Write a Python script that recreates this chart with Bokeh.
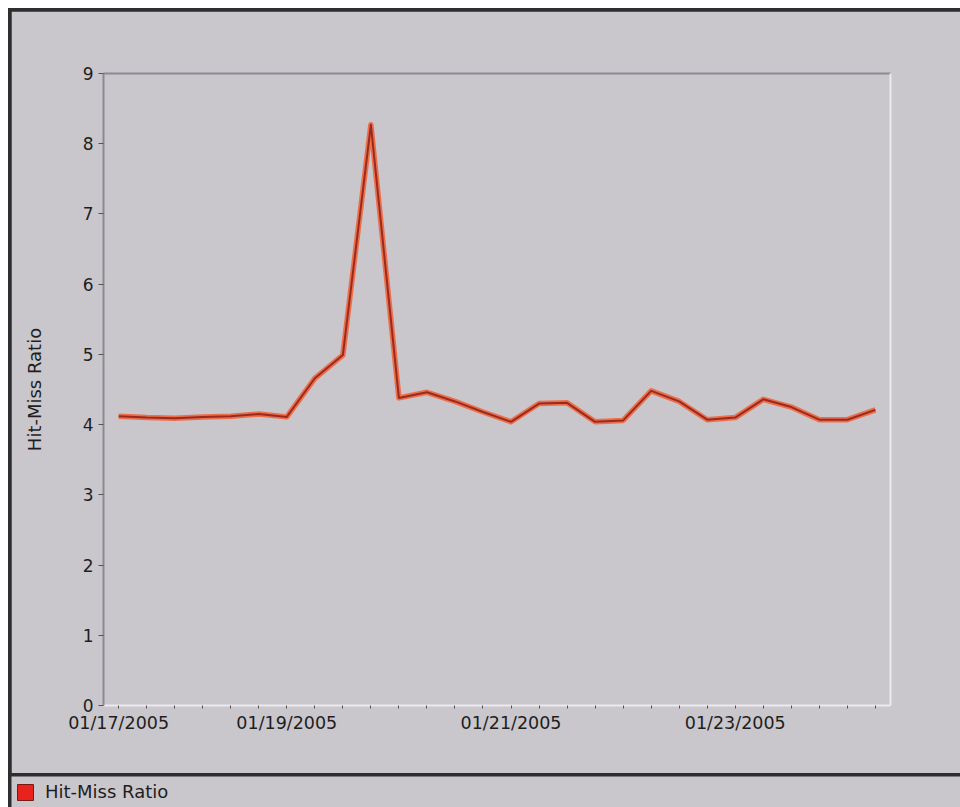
from bokeh.plotting import figure
from bokeh.models import Range1d, FixedTicker, LinearAxis, Legend, LegendItem
from bokeh.layouts import column
from bokeh.embed import file_html
from bokeh.resources import INLINE

# ---- data ----
series_name = "Hit-Miss Ratio"
ratio = [4.12, 4.10, 4.09, 4.11, 4.12, 4.15, 4.11, 4.66, 4.99, 8.27,
         4.38, 4.46, 4.33, 4.18, 4.04, 4.30, 4.31, 4.04, 4.06, 4.48,
         4.33, 4.07, 4.10, 4.36, 4.25, 4.07, 4.07, 4.21]
date_labels = ["01/17/2005", "01/19/2005", "01/21/2005", "01/23/2005"]
date_label_index = [0, 6, 14, 22]
y_ticks = [0, 1, 2, 3, 4, 5, 6, 7, 8, 9]

# ---- style ----
BG = "#C9C6CC"
FONT = "DejaVu Sans"
TXT = "#1E1E1E"
FRAME_DARK = "#2E2E2E"

x = list(range(len(ratio)))

p = figure(width=949, height=762, output_backend="svg", toolbar_location=None,
           x_range=Range1d(-0.54, len(ratio) - 0.46), y_range=Range1d(y_ticks[0], y_ticks[-1]),
           min_border_left=92, min_border_right=70, min_border_top=62, min_border_bottom=68,
           background_fill_color=BG, border_fill_color=BG, outline_line_color=None)
p.frame_align = False
p.grid.visible = False

# y axis
ya = p.yaxis[0]
ya.ticker = FixedTicker(ticks=y_ticks, minor_ticks=[])
ya.axis_label = series_name
ya.axis_label_text_font = FONT
ya.axis_label_text_font_size = "18px"
ya.axis_label_text_font_style = "normal"
ya.axis_label_text_color = TXT
ya.axis_label_standoff = 35
ya.major_label_text_font = FONT
ya.major_label_text_font_size = "17px"
ya.major_label_text_color = TXT
ya.major_tick_in = 0
ya.major_tick_out = 5
ya.major_tick_line_color = "#555555"
ya.axis_line_color = "#8C898F"
ya.axis_line_width = 2

# x axis
xa = p.xaxis[0]
xa.ticker = FixedTicker(ticks=x, minor_ticks=[])
overrides = {i: "" for i in x}
for i, lab in zip(date_label_index, date_labels):
    overrides[i] = lab
xa.major_label_overrides = overrides
xa.major_label_text_font = FONT
xa.major_label_text_font_size = "17.5px"
xa.major_label_text_color = TXT
xa.major_label_standoff = 4
xa.major_tick_in = 0
xa.major_tick_out = 3
xa.major_tick_line_color = "#555555"
xa.axis_line_color = "#ECEAEE"
xa.axis_line_width = 2

# top and right frame lines
top_axis = LinearAxis(ticker=FixedTicker(ticks=[]), axis_line_color="#8C898F", axis_line_width=2,
                      major_tick_line_color=None, minor_tick_line_color=None)
right_axis = LinearAxis(ticker=FixedTicker(ticks=[]), axis_line_color="#ECEAEE", axis_line_width=2,
                        major_tick_line_color=None, minor_tick_line_color=None)
p.add_layout(top_axis, "above")
p.add_layout(right_axis, "right")

# series line
p.line(x, ratio, line_color="#EE6A45", line_width=5.5, line_alpha=0.95, line_join="round")
p.line(x, ratio, line_color="#9A2A1E", line_width=2, line_join="round")

# legend strip
lf = figure(width=949, height=31, output_backend="svg", toolbar_location=None,
            x_range=Range1d(0, 1), y_range=Range1d(0, 1),
            min_border=0, x_axis_location=None, y_axis_location=None,
            background_fill_color=BG, border_fill_color=BG, outline_line_color=None)
lf.frame_align = False
lf.grid.visible = False
# swatch renderer: one off-range bar so the legend can draw its fill sample
swatch = lf.vbar(x=[5], top=[5], bottom=[4], width=1, fill_color="#E8231E",
                 line_color="#7A1A14", line_width=1)
legend = Legend(items=[LegendItem(label=series_name, renderers=[swatch])],
                location=(4, 5), orientation="horizontal", padding=0, margin=0,
                glyph_width=20, glyph_height=20, label_standoff=10,
                label_text_font=FONT, label_text_font_size="18px", label_text_color=TXT,
                background_fill_alpha=0, border_line_color=None)
lf.add_layout(legend)

layout = column(p, lf, spacing=3)
layout.styles = {"margin-left": "8px", "margin-top": "8px", "padding-left": "3px",
                 "padding-top": "3px", "background-color": FRAME_DARK}
open("out.html", "w").write(file_html(layout, INLINE))
